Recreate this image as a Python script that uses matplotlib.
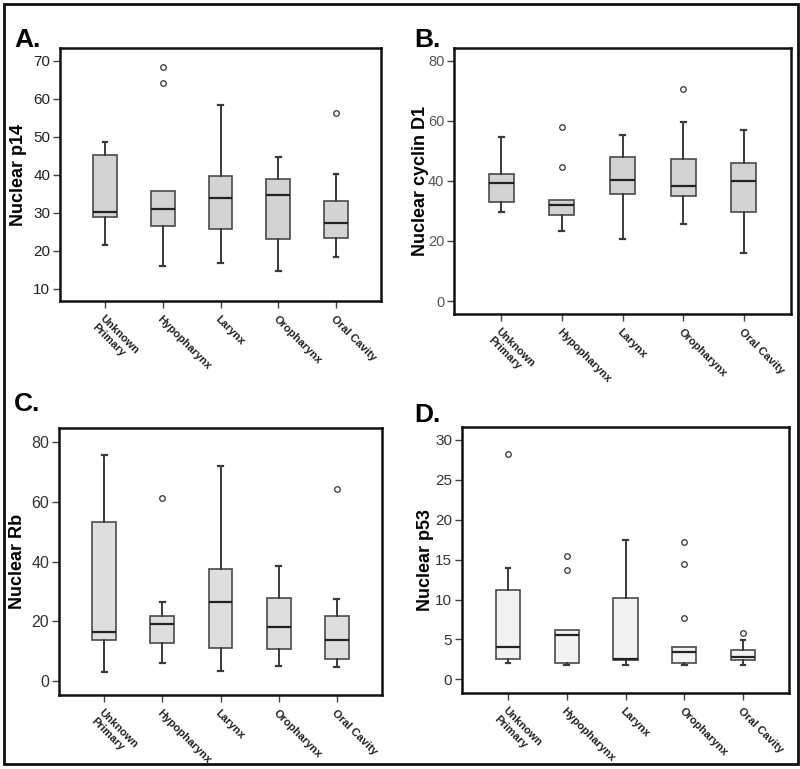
import matplotlib
matplotlib.use('Agg')
import matplotlib.pyplot as plt
from matplotlib.patches import Rectangle

plt.rcParams['font.family'] = ['Liberation Sans', 'DejaVu Sans']

sites = ['Unknown\nPrimary', 'Hypopharynx', 'Larynx', 'Oropharynx', 'Oral Cavity']

# A. Nuclear p14
p14_low = [21.4, 16.1, 16.7, 14.6, 18.3]
p14_q1 = [28.8, 26.4, 25.8, 23.2, 23.4]
p14_med = [30.3, 31.0, 33.9, 34.7, 27.2]
p14_q3 = [45.1, 35.6, 39.6, 38.9, 33.2]
p14_high = [48.7, 35.6, 58.3, 44.6, 40.2]
p14_out = [[], [68.3, 64.0], [], [], [56.3]]

# B. Nuclear cyclin D1
cyc_low = [29.6, 23.3, 20.7, 25.8, 16.0]
cyc_q1 = [33.0, 28.8, 35.5, 34.8, 29.8]
cyc_med = [39.3, 31.8, 40.4, 38.3, 39.9]
cyc_q3 = [42.2, 33.7, 47.9, 47.4, 46.1]
cyc_high = [54.6, 33.7, 55.4, 59.7, 57.0]
cyc_out = [[], [58.0, 44.7], [], [70.4], []]

# C. Nuclear Rb
rb_low = [3.1, 6.0, 3.4, 5.0, 4.8]
rb_q1 = [13.8, 12.8, 11.0, 10.7, 7.6]
rb_med = [16.4, 19.1, 26.5, 18.0, 13.9]
rb_q3 = [53.1, 21.9, 37.4, 27.8, 21.7]
rb_high = [75.6, 26.4, 72.0, 38.4, 27.5]
rb_out = [[], [61.2], [], [], [64.3]]

# D. Nuclear p53
p53_low = [2.0, 1.75, 1.8, 1.8, 1.8]
p53_q1 = [2.5, 2.1, 2.4, 2.0, 2.4]
p53_med = [4.0, 5.5, 2.6, 3.4, 2.8]
p53_q3 = [11.2, 6.2, 10.2, 4.1, 3.7]
p53_high = [14.0, 6.2, 17.5, 4.1, 4.9]
p53_out = [[28.2], [15.4, 13.75], [], [17.2, 14.4, 7.7], [5.8]]

W, H = 800, 769
fig = plt.figure(figsize=(W / 100, H / 100), dpi=100)


def px_axes(l, t, r, b):
    return fig.add_axes([l / W, (H - b) / H, (r - l) / W, (b - t) / H])


def panel(ax, low, q1, med, q3, high, out, fill, ylim, yticks, ylabel,
          letter, letter_xy, label_x, tick_size, tick_color):
    stats = []
    for i in range(len(sites)):
        stats.append(dict(whislo=low[i], q1=q1[i], med=med[i], q3=q3[i],
                          whishi=high[i], fliers=out[i]))
    bp = ax.bxp(stats, positions=range(1, 6), widths=0.41, capwidths=0.08,
                patch_artist=True, showfliers=True,
                boxprops=dict(facecolor=fill, edgecolor='#4a4a4a', linewidth=1.2),
                medianprops=dict(color='#222222', linewidth=1.6),
                whiskerprops=dict(color='#3a3a3a', linewidth=1.4),
                capprops=dict(color='#3a3a3a', linewidth=1.6),
                flierprops=dict(marker='o', markersize=4, markerfacecolor='white',
                                markeredgecolor='#333333', markeredgewidth=0.9))
    # no upper whisker when it ends at the box
    for i in range(len(sites)):
        if high[i] == q3[i]:
            bp['caps'][2 * i + 1].set_visible(False)
    ax.set_xlim(0.22, 5.78)
    ax.set_ylim(*ylim)
    ax.set_yticks(yticks)
    ax.set_xticks(range(1, 6))
    ax.set_xticklabels(sites, rotation=-45, ha='left', va='top',
                       rotation_mode='anchor', fontsize=8,
                       fontweight='bold', color='#222222')
    ax.tick_params(axis='y', labelsize=tick_size, labelcolor=tick_color,
                   length=5, width=1, color='#444444', pad=2)
    ax.tick_params(axis='x', length=5, width=1, color='#444444', pad=4)
    for s in ax.spines.values():
        s.set_linewidth(1.8)
        s.set_color('#111111')
    ax.set_ylabel(ylabel, fontsize=13, fontweight='bold')
    ax.yaxis.set_label_coords(label_x, 0.5)
    fig.text(letter_xy[0] / W, (H - letter_xy[1]) / H, letter,
             fontsize=19, fontweight='bold', ha='left', va='baseline')


axA = px_axes(60, 48, 381, 301)
panel(axA, p14_low, p14_q1, p14_med, p14_q3, p14_high, p14_out, '#d3d3d3',
      (6.8, 73.3), [10, 20, 30, 40, 50, 60, 70], 'Nuclear p14', 'A.',
      (14, 47), -0.103, 11, '#222222')

axB = px_axes(454, 48, 791, 314)
panel(axB, cyc_low, cyc_q1, cyc_med, cyc_q3, cyc_high, cyc_out, '#d3d3d3',
      (-4.3, 84.2), [0, 20, 40, 60, 80], 'Nuclear cyclin D1', 'B.',
      (414, 47), -0.074, 10.5, '#555555')

axC = px_axes(59, 428, 382, 695)
panel(axC, rb_low, rb_q1, rb_med, rb_q3, rb_high, rb_out, '#dedede',
      (-4.6, 84.7), [0, 20, 40, 60, 80], 'Nuclear Rb', 'C.',
      (14, 411), -0.102, 11.5, '#333333')

axD = px_axes(462, 427, 789, 693)
panel(axD, p53_low, p53_q1, p53_med, p53_q3, p53_high, p53_out, '#f2f2f2',
      (-1.7, 31.6), [0, 5, 10, 15, 20, 25, 30], 'Nuclear p53', 'D.',
      (414, 422), -0.086, 11, '#333333')

# frame round the whole figure
fig.patches.append(Rectangle((4 / W, 5 / H), 794 / W, 760 / H,
                             transform=fig.transFigure, fill=False,
                             edgecolor='#111111', linewidth=2))

fig.savefig('out.png', dpi=100)
